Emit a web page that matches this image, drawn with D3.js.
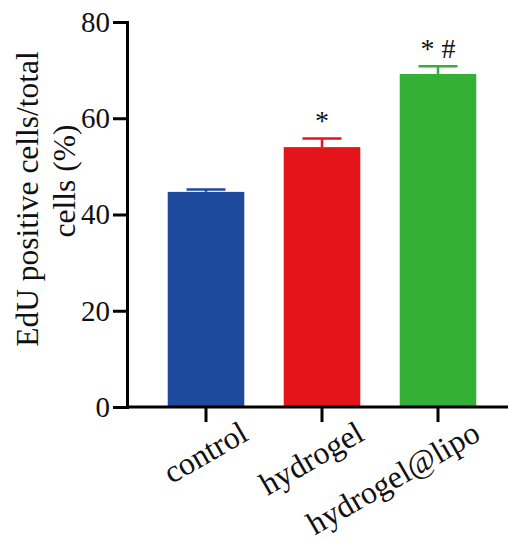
<!DOCTYPE html>
<html>
<head>
<meta charset="utf-8">
<script src="https://cdn.jsdelivr.net/npm/d3@7"></script>
<style>
  body { margin: 0; background: #fff; }
  svg { display: block; font-family: "Liberation Serif", "Times New Roman", serif; }
</style>
</head>
<body>
<svg id="chart" width="508" height="541"></svg>
<script>
// Data
const groups = ['control', 'hydrogel', 'hydrogel@lipo'];
const means = [44.7, 54.0, 69.2];
const errors = [0.5, 1.8, 1.6];
const marks = ['', '*', '* #'];
const colors = ['#1d4a9c', '#e5141b', '#33b035'];
const yTicks = [0, 20, 40, 60, 80];

const svg = d3.select('#chart');

// Scales
const x = d3.scaleBand()
  .domain(groups)
  .range([148, 496])
  .paddingInner(0.34)
  .paddingOuter(0.17);

const y = d3.scaleLinear()
  .domain([0, 80])
  .range([407, 22]);

// Bars
svg.selectAll('rect.bar')
  .data(groups)
  .enter()
  .append('rect')
  .attr('class', 'bar')
  .attr('x', d => x(d))
  .attr('y', (d, i) => y(means[i]))
  .attr('width', x.bandwidth())
  .attr('height', (d, i) => y(0) - y(means[i]))
  .attr('fill', (d, i) => colors[i]);

// Error bars (upper only)
const cap = 39;
const err = svg.selectAll('g.err')
  .data(groups)
  .enter()
  .append('g')
  .attr('class', 'err')
  .attr('stroke', (d, i) => colors[i])
  .attr('stroke-width', 2.5);

err.append('line')
  .attr('x1', d => x(d) + x.bandwidth() / 2)
  .attr('x2', d => x(d) + x.bandwidth() / 2)
  .attr('y1', (d, i) => y(means[i]))
  .attr('y2', (d, i) => y(means[i] + errors[i]));

err.append('line')
  .attr('x1', d => x(d) + x.bandwidth() / 2 - cap / 2)
  .attr('x2', d => x(d) + x.bandwidth() / 2 + cap / 2)
  .attr('y1', (d, i) => y(means[i] + errors[i]))
  .attr('y2', (d, i) => y(means[i] + errors[i]));

// Significance marks
svg.selectAll('text.sig')
  .data(groups)
  .enter()
  .append('text')
  .attr('class', 'sig')
  .attr('x', d => x(d) + x.bandwidth() / 2)
  .attr('y', (d, i) => y(means[i] + errors[i]) - 8)
  .attr('text-anchor', 'middle')
  .attr('font-size', 28)
  .attr('fill', '#111')
  .style('white-space', 'pre')
  .text((d, i) => marks[i]);

// Y axis
const yAxis = svg.append('g')
  .attr('transform', 'translate(127,0)')
  .call(d3.axisLeft(y).tickValues(yTicks).tickSize(14).tickPadding(3));

// X axis
const xAxis = svg.append('g')
  .attr('transform', 'translate(0,407)')
  .call(d3.axisBottom(x).tickSize(15).tickFormat(''));

xAxis.select('.domain').attr('d', 'M127,0H508');

[yAxis, xAxis].forEach(g => {
  g.selectAll('.domain, line')
    .attr('stroke', '#000')
    .attr('stroke-width', 3);
});

yAxis.selectAll('text')
  .attr('font-size', 29)
  .attr('font-family', '"Liberation Serif", serif')
  .attr('fill', '#111');

// Rotated category labels
svg.selectAll('text.cat')
  .data(groups)
  .enter()
  .append('text')
  .attr('class', 'cat')
  .attr('transform', d => `translate(${x(d) + x.bandwidth() / 2 + 44},439) rotate(-30)`)
  .attr('text-anchor', 'end')
  .attr('font-size', 32)
  .attr('fill', '#111')
  .text(d => d);

// Y axis title, two lines
svg.append('text')
  .attr('transform', 'translate(38,199) rotate(-90)')
  .attr('text-anchor', 'middle')
  .attr('font-size', 31.5)
  .attr('fill', '#111')
  .text('EdU positive cells/total');

svg.append('text')
  .attr('transform', 'translate(75,181) rotate(-90)')
  .attr('text-anchor', 'middle')
  .attr('font-size', 31.5)
  .attr('fill', '#111')
  .text('cells (%)');
</script>
</body>
</html>
